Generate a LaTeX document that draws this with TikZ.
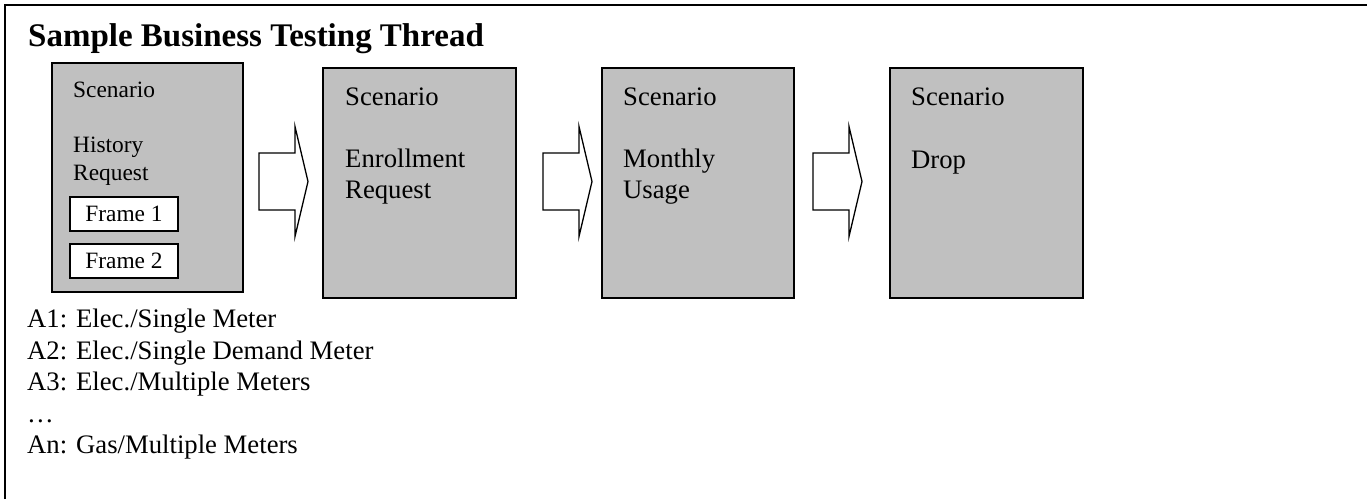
\documentclass[tikz,border=0pt]{standalone}
\usepackage{fontspec}
\setmainfont{Liberation Serif}
\definecolor{scengray}{RGB}{192,192,192}
\begin{document}
\begin{tikzpicture}[x=1pt,y=-1pt,
  scen/.style={draw=black, line width=2pt, fill=scengray, anchor=north west, inner sep=0pt, outer sep=0pt},
  framebox/.style={draw=black, line width=2pt, fill=white, inner sep=0pt, outer sep=0pt,
     minimum width=108pt, minimum height=34pt, font=\fontsize{23.4}{27}\selectfont},
  txtS/.style={anchor=base west, inner sep=0pt, font=\fontsize{23.4}{27}\selectfont},
  txtL/.style={anchor=base west, inner sep=0pt, font=\fontsize{26.7}{31}\selectfont},
  ttl/.style={anchor=base west, inner sep=0pt, font=\fontsize{33}{38}\selectfont\bfseries},
  barrow/.pic={\draw[line width=1.3pt, fill=white, line join=miter]
     (0,-28.5) -- (36,-28.5) -- (36,-55) -- (49,0) -- (36,55) -- (36,28.5) -- (0,28.5) -- cycle;}
]
\useasboundingbox (0,0) rectangle (1367,499);
\draw[line width=2pt] (5,499) -- (5,5) -- (1368,5);
\node[ttl] (title) at (28,46) {Sample Business Testing Thread};

% boxes
\node[scen, minimum width=191pt, minimum height=229pt] (b1) at (52,63) {};
\node[scen, minimum width=193pt, minimum height=230pt] (b2) at (323,68) {};
\node[scen, minimum width=192pt, minimum height=230pt] (b3) at (602,68) {};
\node[scen, minimum width=193pt, minimum height=230pt] (b4) at (890,68) {};

% box 1 contents
\node[txtS] (b1s) at (73,97) {Scenario};
\node[txtS] (b1a) at (73,152) {History};
\node[txtS] (b1b) at (73,180) {Request};
\node[framebox] (f1) at (124,214) {Frame 1};
\node[framebox] (f2) at (124,260.5) {Frame 2};

% box 2
\node[txtL] (b2s) at (345,105) {Scenario};
\node[txtL] (b2a) at (345,167) {Enrollment};
\node[txtL] (b2b) at (345,198) {Request};
% box 3
\node[txtL] (b3s) at (623,105) {Scenario};
\node[txtL] (b3a) at (623,167) {Monthly};
\node[txtL] (b3b) at (623,198) {Usage};
% box 4
\node[txtL] (b4s) at (911,105) {Scenario};
\node[txtL] (b4a) at (911,168) {Drop};

% block arrows
\pic at (259,181.5) {barrow};
\pic at (543,181.5) {barrow};
\pic at (813,181.5) {barrow};

% list
\node[txtL] (l1) at (27,327) {A1: Elec./Single Meter};
\node[txtL] (l2) at (27,359) {A2: Elec./Single Demand Meter};
\node[txtL] (l3) at (27,390) {A3: Elec./Multiple Meters};
\node[txtL] (l4) at (27,422) {…};
\node[txtL] (l5) at (27,453) {An: Gas/Multiple Meters};
\end{tikzpicture}
\end{document}
